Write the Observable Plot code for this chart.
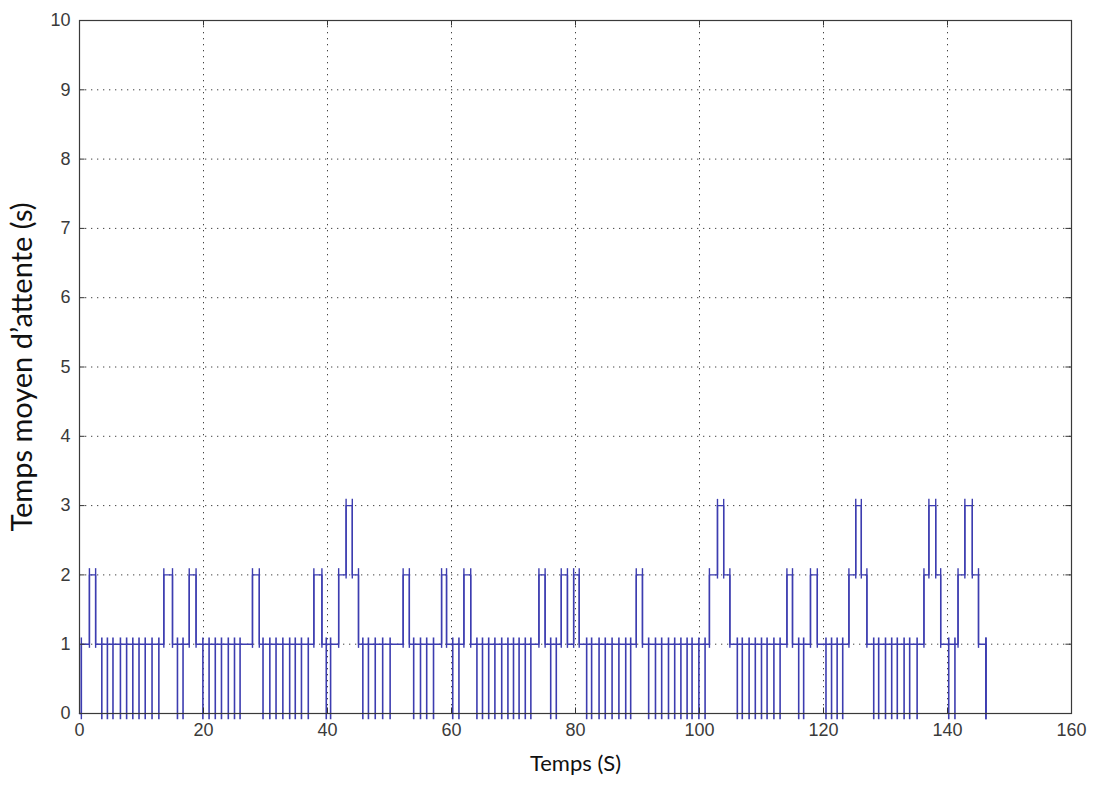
<!DOCTYPE html>
<html>
<head>
<meta charset="utf-8">
<script src="https://cdn.jsdelivr.net/npm/d3@7"></script>
<script src="https://cdn.jsdelivr.net/npm/@observablehq/plot@0.6"></script>
<style>
  html, body { margin: 0; padding: 0; background: #ffffff; }
  #chart svg { display: block; }
</style>
</head>
<body>
<div id="chart"></div>
<script>
// Step signal: time of each change and the level held after it
const stepTimes  = [0, 0.3, 1.6, 2.6, 13.6, 15.0, 17.7, 18.8, 27.9, 29.0, 37.8, 39.1,
  41.8, 43.0, 44.0, 45.0, 52.2, 53.2, 58.4, 59.2, 62.0, 63.1, 74.1, 75.1, 77.7, 78.7,
  79.7, 80.6, 89.8, 90.8, 101.6, 102.9, 103.9, 104.9, 114.1, 115.0, 117.9, 119.0,
  124.1, 125.2, 126.1, 127.0, 136.2, 137.0, 138.1, 138.9, 141.7, 142.8, 144.0, 145.0, 146.2];
const stepLevels = [0, 1, 2, 1, 2, 1, 2, 1, 2, 1, 2, 1,
  2, 3, 2, 1, 2, 1, 2, 1, 2, 1, 2, 1, 2, 1,
  2, 1, 2, 1, 2, 3, 2, 1, 2, 1, 2, 1,
  2, 3, 2, 1, 2, 3, 2, 1, 2, 3, 2, 1, 0];

// Instants where the signal drops briefly to zero
const spikeTimes = [3.6, 4.5, 5.4, 6.6, 7.6, 8.6, 9.6, 10.6, 11.7, 12.8, 15.8, 16.7,
  19.9, 20.9, 21.9, 22.9, 24.0, 25.0, 25.9, 29.6, 30.7, 31.7, 32.8, 33.9, 34.8, 35.8, 36.9,
  39.8, 40.5, 45.7, 46.6, 47.7, 48.9, 50.1, 53.9, 55.0, 56.0, 57.1, 60.2, 61.2,
  64.1, 65.0, 66.0, 67.0, 68.1, 69.1, 70.0, 70.9, 71.9, 72.8, 76.0, 76.9,
  81.8, 82.6, 83.8, 84.8, 85.9, 87.0, 88.1, 88.9, 91.8, 92.9, 93.9, 95.0, 96.0, 97.0,
  98.0, 98.8, 99.9, 100.9, 106.1, 106.9, 108.0, 109.0, 110.0, 110.9, 112.0, 113.0,
  116.0, 116.8, 120.4, 121.3, 122.2, 123.1, 128.1, 128.9, 130.0, 131.0, 131.9, 133.0,
  133.9, 135.1, 140.2, 141.2, 146.2];

const xTicks = [0, 20, 40, 60, 80, 100, 120, 140, 160];
const yTicks = [0, 1, 2, 3, 4, 5, 6, 7, 8, 9, 10];
const xTitle = "Temps (S)";
const yTitle = "Temps moyen d’attente (s)";

const series = stepTimes.map((t, i) => ({t, v: stepLevels[i]}));
const transitions = stepTimes.slice(1).map((t, i) => ({
  t,
  lo: Math.min(stepLevels[i], stepLevels[i + 1]),
  hi: Math.max(stepLevels[i], stepLevels[i + 1])
}));

const lineColor = "#3d3db0";
const gridStyle = {stroke: "#222", strokeOpacity: 0.85, strokeWidth: 1, strokeDasharray: "1.3,4.7"};

const chart = Plot.plot({
  width: 1097,
  height: 785,
  marginLeft: 79,
  marginRight: 26,
  marginTop: 20,
  marginBottom: 72,
  x: {domain: [0, 160]},
  y: {domain: [0, 10]},
  style: {background: "#ffffff", overflow: "visible"},
  marks: [
    Plot.gridX(xTicks.slice(1, -1), gridStyle),
    Plot.gridY(yTicks.slice(1, -1), gridStyle),
    Plot.line(series, {x: "t", y: "v", curve: "step-after", stroke: lineColor, strokeWidth: 1.4}),
    Plot.ruleX(spikeTimes, {x: d => d, y1: -0.09, y2: 1.09, stroke: lineColor, strokeWidth: 1.6}),
    Plot.ruleX(transitions, {x: "t", y1: d => d.lo === 0 ? -0.09 : d.lo - 0.06, y2: d => d.hi + 0.09, stroke: lineColor, strokeWidth: 1.4}),
    // inward ticks like the original axes box
    Plot.ruleX(xTicks, {x: d => d, y1: 0, y2: 0.08, stroke: "#333"}),
    Plot.ruleX(xTicks, {x: d => d, y1: 10, y2: 9.92, stroke: "#333"}),
    Plot.ruleY(yTicks, {y: d => d, x1: 0, x2: 0.9, stroke: "#333"}),
    Plot.ruleY(yTicks, {y: d => d, x1: 160, x2: 159.1, stroke: "#333"}),
    Plot.frame({stroke: "#3a3a3a", strokeWidth: 1.2}),
    Plot.axisX(xTicks, {tickSize: 0, tickPadding: 10, label: null, tickFormat: d3.format("d"), fontSize: 18, fill: "#3a3a3a"}),
    Plot.axisY(yTicks, {tickSize: 0, tickPadding: 9, label: null, tickFormat: d3.format("d"), fontSize: 18, fill: "#3a3a3a"}),
    Plot.text([xTitle], {frameAnchor: "bottom", dy: 57, textAnchor: "middle", fontSize: 22, fill: "#111"}),
    Plot.text([yTitle], {frameAnchor: "left", dx: -57, rotate: -90, textAnchor: "middle", fontSize: 29, fill: "#111"})
  ]
});

chart.style.fontFamily = "'Liberation Sans', Arial, sans-serif";
chart.querySelectorAll("g[aria-label='text'] text").forEach(t => t.setAttribute("font-family", "Lato, 'Open Sans', sans-serif"));
document.getElementById("chart").appendChild(chart);
</script>
</body>
</html>
